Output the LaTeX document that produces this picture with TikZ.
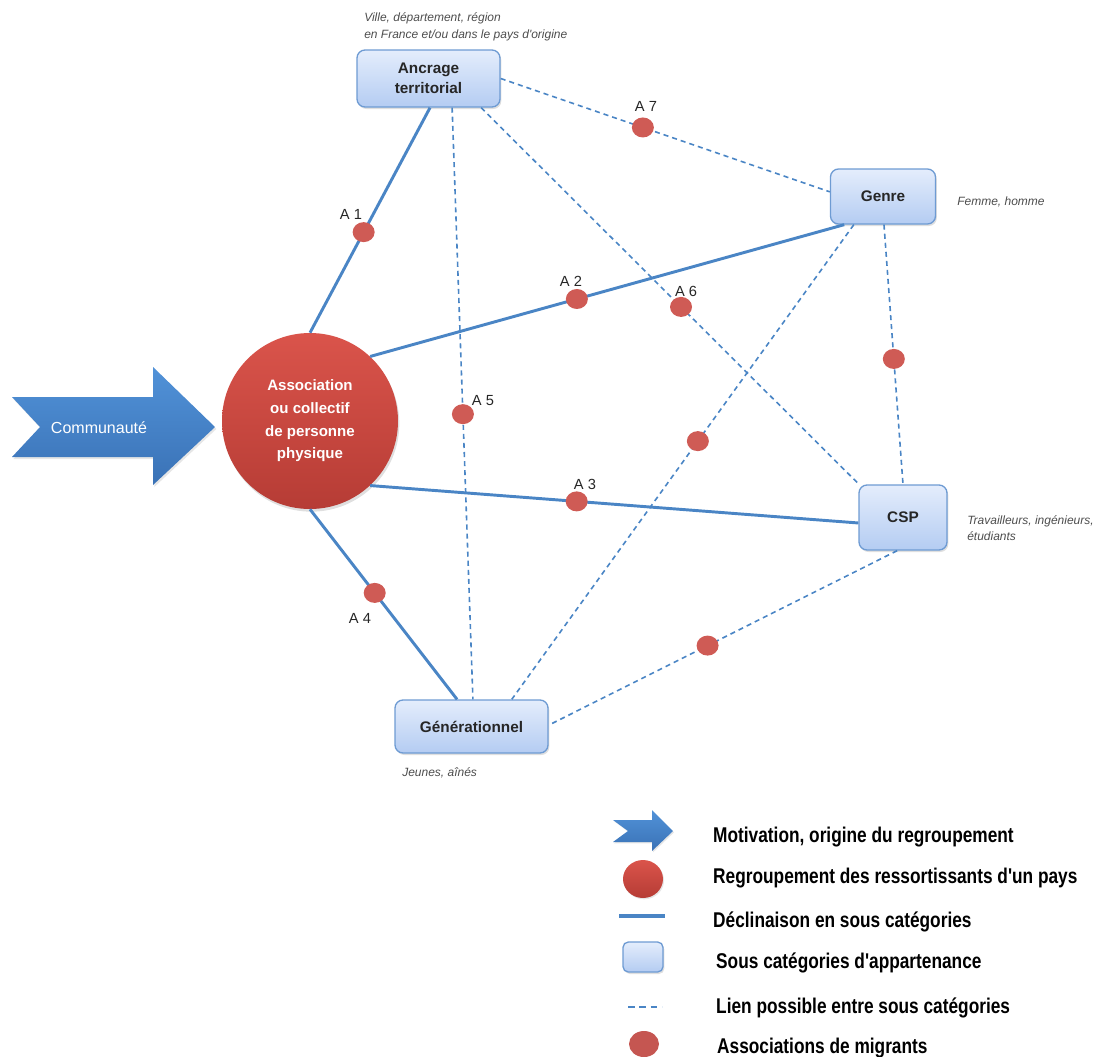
\documentclass[tikz,border=0pt]{standalone}
\usepackage{fontspec}
\setmainfont{Liberation Sans}
\usetikzlibrary{calc,shadows,shapes.geometric}
\definecolor{lineblue}{HTML}{4A85C5}
\definecolor{boxborder}{HTML}{6E9BD3}
\definecolor{boxtop}{HTML}{E4EDFC}
\definecolor{boxbot}{HTML}{B4CCF2}
\definecolor{circtop}{HTML}{DA544B}
\definecolor{circbot}{HTML}{B63C35}
\definecolor{dotred}{HTML}{CF5B55}
\definecolor{arrtop}{HTML}{5192D8}
\definecolor{arrbot}{HTML}{3A72B6}
\definecolor{notegray}{HTML}{4D4D4D}
\begin{document}
\begin{tikzpicture}[x=0.75pt,y=-0.75pt,
  catbox/.style={draw=boxborder, line width=1pt, rounded corners=6pt,
    top color=boxtop, bottom color=boxbot, align=center, inner sep=0pt,
    font=\bfseries\fontsize{11.5}{15}\selectfont, text=black!85,
    drop shadow={opacity=0.25, shadow xshift=1pt, shadow yshift=-1.5pt}},
  bigcirc/.style={circle, minimum size=132pt, inner sep=0pt, top color=circtop,
    bottom color=circbot, align=center, text=white,
    font=\bfseries\fontsize{11.3}{17}\selectfont,
    drop shadow={opacity=0.25, shadow xshift=1pt, shadow yshift=-2pt}},
  adot/.style={ellipse, fill=dotred, minimum width=16.5pt, minimum height=15pt, inner sep=0pt},
  solidlink/.style={draw=lineblue, line width=2.2pt},
  dashlink/.style={draw=lineblue, line width=1.2pt, dash pattern=on 3.8pt off 3pt},
  alabel/.style={font=\fontsize{11}{13}\selectfont, text=black!85},
  note/.style={font=\itshape\fontsize{9}{12.5}\selectfont, text=notegray, align=left, inner sep=0pt},
  legtext/.style={font=\bfseries\fontsize{16}{18}\selectfont, xscale=0.81, anchor=base west, inner sep=0pt}
]
\useasboundingbox (0,0) rectangle (1100,1057);

% main arrow
\path[top color=arrtop, bottom color=arrbot, drop shadow={opacity=0.2, shadow xshift=1pt, shadow yshift=-1.5pt}]
  (12,397) -- (153,397) -- (153,367) -- (215,427) -- (153,485) -- (153,457) -- (12,457) -- (40,427) -- cycle;
\node[font=\fontsize{12}{14}\selectfont, text=white] (comm) at (99,428) {Communauté};

% nodes
\node[bigcirc] (circ) at (310,421) {Association\\ou collectif\\de personne\\physique};
\node[catbox, minimum width=107.25pt, minimum height=42.75pt] (anc) at (428.5,78.5) {Ancrage\\territorial};
\node[catbox, minimum width=78.75pt, minimum height=41.25pt] (genre) at (883,196.5) {Genre};
\node[catbox, minimum width=66pt, minimum height=48.75pt] (csp) at (903,517.5) {CSP};
\node[catbox, minimum width=114.75pt, minimum height=39.75pt] (gen) at (471.5,726.5) {Générationnel};

% dashed links
\draw[dashlink] (anc.0) -- node[adot, pos=0.432] (d7) {} (genre.175);
\draw[dashlink] (anc.309.5) -- node[adot, pos=0.518] (d5) {} (gen.87);
\draw[dashlink] (anc.331) -- node[adot, pos=0.529] (d6) {} (csp.143.4);
\draw[dashlink] (genre.224.5) -- node[adot, pos=0.456] (dgg) {} (gen.34.5);
\draw[dashlink] (genre.272) -- node[adot, pos=0.517] (dgc) {} (csp.90);
\draw[dashlink] (csp.260) -- node[adot, pos=0.544] (dcg) {} (gen.1);

% solid links
\draw[solidlink] (circ.90) -- node[adot, pos=0.447] (d1) {} (anc.273);
\draw[solidlink] (circ.47) -- node[adot, pos=0.436] (d2) {} (genre.216);
\draw[solidlink] (circ.-47) -- node[adot, pos=0.423] (d3) {} (csp.187);
\draw[solidlink] (circ.270) -- node[adot, pos=0.44] (d4) {} (gen.118.7);

% labels
\node[alabel] (l1) at (351,214) {A 1};
\node[alabel] (l2) at (571,281) {A 2};
\node[alabel] (l3) at (585,484) {A 3};
\node[alabel] (l4) at (360,618) {A 4};
\node[alabel] (l5) at (483,401) {A 5};
\node[alabel] (l6) at (686,291) {A 6};
\node[alabel] (l7) at (646,106) {A 7};

% notes
\node[note, anchor=west] (nanc) at (364,27) {Ville, département, région\\en France et/ou dans le pays d\textquotesingle origine};
\node[note, anchor=west] (ngenre) at (957,202) {Femme, homme};
\node[note, anchor=west] (ncsp) at (967,528) {Travailleurs, ingénieurs,\\étudiants};
\node[note, anchor=west] (ngen) at (402,773) {Jeunes, aînés};

% legend
\path[top color=arrtop, bottom color=arrbot, drop shadow={opacity=0.2, shadow xshift=0.8pt, shadow yshift=-1pt}]
  (613,820) -- (652,820) -- (652,810) -- (673,831) -- (652,851) -- (652,842) -- (613,842) -- (628,831) -- cycle;
\node[ellipse, minimum width=30pt, minimum height=28.5pt, inner sep=0pt, top color=circtop, bottom color=circbot,
  drop shadow={opacity=0.2, shadow xshift=0.8pt, shadow yshift=-1pt}] (lgc) at (643,879) {};
\coordinate (lgl1) at (619,916);
\coordinate (lgl2) at (665,916);
\draw[draw=lineblue, line width=2.8pt] (lgl1) -- (lgl2);
\node[catbox, minimum width=30pt, minimum height=22.5pt, rounded corners=4pt] (lgb) at (643,957) {};
\coordinate (lgd1) at (628,1007);
\coordinate (lgd2) at (662,1007);
\draw[draw=lineblue, line width=2.2pt, dash pattern=on 5pt off 3.5pt] (lgd1) -- (lgd2);
\node[ellipse, fill=dotred!95!black, minimum width=22.5pt, minimum height=19.5pt, inner sep=0pt] (lgdot) at (644,1044) {};

\node[legtext] (t1) at (713,842) {Motivation, origine du regroupement};
\node[legtext] (t2) at (713,883) {Regroupement des ressortissants d\textquotesingle un pays};
\node[legtext] (t3) at (713,927) {Déclinaison en sous catégories};
\node[legtext] (t4) at (716,968) {Sous catégories d\textquotesingle appartenance};
\node[legtext] (t5) at (716,1013) {Lien possible entre sous catégories};
\node[legtext] (t6) at (717,1053) {Associations de migrants};
\end{tikzpicture}
\end{document}
